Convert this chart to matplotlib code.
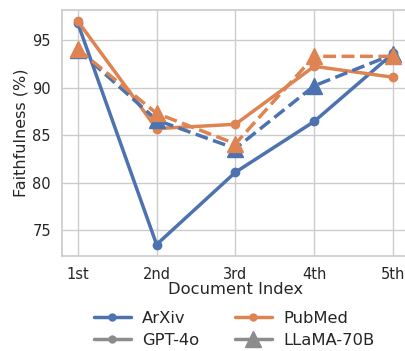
import matplotlib
matplotlib.use("Agg")
import matplotlib.pyplot as plt
import seaborn as sns
from matplotlib.lines import Line2D

sns.set_theme(style="whitegrid", palette="deep")
plt.rcParams['font.family'] = ['DejaVu Sans']

docs = ["1st", "2nd", "3rd", "4th", "5th"]
gpt_arxiv = [96.8, 73.5, 81.1, 86.45, 93.6]
gpt_pubmed = [97.0, 85.7, 86.15, 92.25, 91.1]
llama_arxiv = [94.0, 86.6, 83.6, 90.2, 93.5]
llama_pubmed = [94.05, 87.3, 84.1, 93.3, 93.3]

blue, orange = sns.color_palette("deep")[0], sns.color_palette("deep")[1]

fig = plt.figure(figsize=(4.05, 3.51), dpi=100)
ax = fig.add_axes([62/405, 1 - 255.7/351, (408.8 - 62)/405, (255.7 - 10)/351])

x = list(range(len(docs)))
ax.plot(x, gpt_arxiv, color=blue, lw=2.5, marker="o", ms=6)
ax.plot(x, gpt_pubmed, color=orange, lw=2.5, marker="o", ms=6)
ax.plot(x, llama_arxiv, color=blue, lw=2.5, ls="--", marker="^", ms=11)
ax.plot(x, llama_pubmed, color=orange, lw=2.5, ls="--", marker="^", ms=11)

ax.set_xticks(x)
ax.set_xticklabels(docs)
ax.set_xlim(-0.2, 4.2)
ax.set_yticks([75, 80, 85, 90, 95])
ax.tick_params(labelsize=10.5, pad=2)
ax.set_xlabel("Document Index", fontsize=11.8, labelpad=0)
ax.set_ylabel("Faithfulness (%)", fontsize=11.5, labelpad=3)

gray = "#8c8c8c"
handles = [
    Line2D([], [], color=blue, lw=2.5, marker="o", ms=5),
    Line2D([], [], color=orange, lw=2.5, marker="o", ms=5),
    Line2D([], [], color=gray, lw=2.5, marker="o", ms=5),
    Line2D([], [], color=gray, lw=2.5, marker="^", ms=11),
]
labels = ["ArXiv", "PubMed", "GPT-4o", "LLaMA-70B"]
# column-wise fill: ArXiv, GPT-4o | PubMed, LLaMA-70B
order = [0, 2, 1, 3]
fig.legend([handles[i] for i in order], [labels[i] for i in order],
           ncol=2, frameon=False, fontsize=11.8,
           loc="center", bbox_to_anchor=(234/405, 1 - 329.5/351),
           handlelength=2.26, columnspacing=2.2, labelspacing=0.45, handletextpad=0.67)

fig.savefig("out.png", dpi=100)
